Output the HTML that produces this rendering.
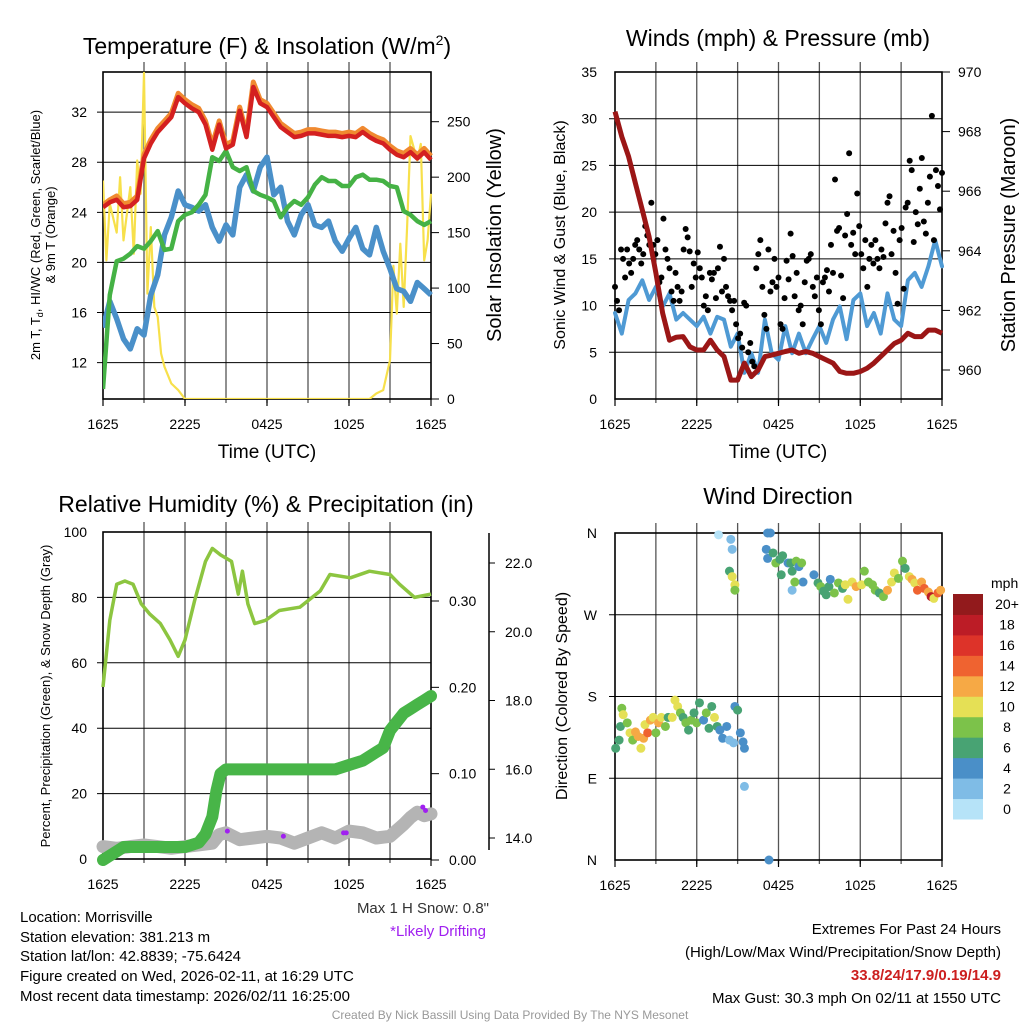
<!DOCTYPE html>
<html><head><meta charset="utf-8">
<style>
html,body{margin:0;padding:0;background:#fff;}
svg{display:block;font-family:"Liberation Sans",sans-serif;}
</style></head>
<body>
<svg id="fig" width="1024" height="1024" viewBox="0 0 1024 1024" xmlns="http://www.w3.org/2000/svg">
<rect width="1024" height="1024" fill="#fff"/>
<g id="p1"></g>
<g id="p2"></g>
<g id="p3"></g>
<g id="p4"></g>

<text x="267" y="54" font-size="23" text-anchor="middle">Temperature (F) &amp; Insolation (W/m<tspan font-size="14" dy="-9">2</tspan><tspan dy="9">)</tspan></text>
<text x="778" y="46" font-size="23" text-anchor="middle">Winds (mph) &amp; Pressure (mb)</text>
<text x="266" y="512" font-size="23" text-anchor="middle">Relative Humidity (%) &amp; Precipitation (in)</text>
<text x="778" y="504" font-size="23" text-anchor="middle">Wind Direction</text>

<text x="267" y="458" font-size="19" text-anchor="middle">Time (UTC)</text>
<text x="778" y="458" font-size="19" text-anchor="middle">Time (UTC)</text>

<g transform="translate(40,235) rotate(-90)">
<text x="0" y="0" font-size="13" text-anchor="middle">2m T, T<tspan font-size="9" dy="3">d</tspan><tspan dy="-3">, HI/WC (Red, Green, Scarlet/Blue)</tspan></text>
<text x="0" y="15" font-size="13" text-anchor="middle">&amp; 9m T (Orange)</text>
</g>
<text transform="translate(501,235) rotate(-90)" font-size="20" text-anchor="middle">Solar Insolation (Yellow)</text>
<text transform="translate(565,235) rotate(-90)" font-size="16" text-anchor="middle">Sonic Wind &amp; Gust (Blue, Black)</text>
<text transform="translate(1015,235) rotate(-90)" font-size="20" text-anchor="middle">Station Pressure (Maroon)</text>
<text transform="translate(50,696) rotate(-90)" font-size="13" text-anchor="middle">Percent, Precipitation (Green), &amp; Snow Depth (Gray)</text>
<text transform="translate(567,696) rotate(-90)" font-size="16" text-anchor="middle">Direction (Colored By Speed)</text>

<text x="489" y="913" font-size="15" fill="#333" text-anchor="end">Max 1 H Snow: 0.8"</text>
<text x="486" y="936" font-size="15" fill="#a020f0" text-anchor="end">*Likely Drifting</text>

<g font-size="15">
<text x="20" y="922">Location: Morrisville</text>
<text x="20" y="942">Station elevation: 381.213 m</text>
<text x="20" y="961">Station lat/lon: 42.8839; -75.6424</text>
<text x="20" y="981">Figure created on Wed, 2026-02-11, at 16:29 UTC</text>
<text x="20" y="1001">Most recent data timestamp: 2026/02/11 16:25:00</text>
</g>
<g font-size="15" text-anchor="end">
<text x="1001" y="934">Extremes For Past 24 Hours</text>
<text x="1001" y="957">(High/Low/Max Wind/Precipitation/Snow Depth)</text>
<text x="1001" y="980" fill="#cc1f1f" font-weight="bold">33.8/24/17.9/0.19/14.9</text>
<text x="1001" y="1003">Max Gust: 30.3 mph On 02/11 at 1550 UTC</text>
</g>
<text x="510" y="1019" font-size="12" fill="#999" text-anchor="middle">Created By Nick Bassill Using Data Provided By The NYS Mesonet</text>
</svg>
<script>
// ---------- data ----------
const xTickLabels = ["1625","2225","0425","1025","1625"];
const tempTimes = [0,0.5,1,1.5,2,2.5,3,3.5,4,4.5,5,5.5,6,6.5,7,7.5,8,8.5,9,9.5,10,10.5,11,11.5,12,12.5,13,13.5,14,14.5,15,15.5,16,16.5,17,17.5,18,18.5,19,19.5,20,20.5,21,21.5,22,22.5,23,23.5,24];
const tempRed = [24.4,24.8,25.0,24.4,24.5,25.0,28.3,29.5,30.4,31.0,31.6,33.2,32.7,32.3,32.0,31.0,29.0,31.0,29.1,29.4,32.1,30.0,34.0,32.7,32.4,31.6,30.8,30.4,30.0,30.1,30.3,30.3,30.2,30.1,30.1,30.0,30.1,30.0,30.4,30.0,29.7,29.5,29.0,28.6,28.4,28.8,28.3,28.8,28.2];
const temp9m = [24.6,25.0,25.3,24.7,24.8,25.3,28.6,29.8,30.7,31.3,31.9,33.5,33.0,32.6,32.3,31.3,29.4,31.3,29.4,29.7,32.4,30.3,34.4,33.0,32.7,31.9,31.1,30.7,30.3,30.4,30.6,30.6,30.5,30.4,30.4,30.3,30.4,30.3,30.7,30.3,30.0,29.8,29.3,28.9,28.7,29.1,28.6,29.1,28.5];
const dewGreen = [9.9,17.4,20.1,20.3,20.7,21.3,21.1,21.7,22.5,21.0,21.1,23.3,23.8,24.0,24.6,25.4,28.4,28.1,28.9,27.6,27.3,27.6,25.7,25.4,25.2,24.9,23.6,24.4,24.9,24.6,25.2,26.2,26.8,26.5,26.5,26.1,26.1,26.8,27.0,26.6,26.6,26.5,26.1,26.0,24.1,23.8,23.3,23.0,23.3];
const windChillBlue = [14.8,16.9,15.5,13.9,13.1,14.7,14.2,17.4,19.0,22.2,23.6,25.7,24.6,24.4,24.1,24.6,22.8,21.7,23.0,22.2,26.0,27.0,25.7,27.6,28.4,25.4,26.0,23.3,22.2,23.8,24.6,23.0,22.8,23.3,21.7,20.9,21.9,22.8,21.1,20.6,22.8,20.9,19.5,17.9,17.7,16.9,18.4,17.9,17.4];
const solarTimes = [0,0.25,0.5,1,1.25,1.5,2,2.25,2.5,2.75,3,3.25,3.5,3.75,4,4.25,4.5,5,5.5,6,8,12,16,19.5,20,20.5,21,21.25,21.5,21.75,22,22.25,22.5,23,23.25,23.5,23.75,24];
const solarVals = [197,125,176,150,200,143,191,131,215,185,294,95,155,83,74,41,29,14,8,0,0,0,0,0,5,8,35,120,77,140,83,155,237,215,230,125,143,185];
const tempLeftTicks = [12,16,20,24,28,32];
const solarTicks = [0,50,100,150,200,250];

const windTimes = tempTimes;
const windSpeed = [9.2,7.0,10.6,11.3,12.7,10.6,12.0,9.9,11.3,8.5,9.2,8.5,7.8,8.8,7.0,8.8,8.5,5.6,7.0,2.8,4.9,2.8,8.5,4.9,4.2,7.8,4.9,7.0,4.9,6.4,7.8,6.0,8.5,9.9,6.4,10.6,11.3,7.8,9.2,7.0,11.3,8.5,7.8,12.7,13.5,12.0,14.2,17.0,14.2];
const gustVals = [12,10.5,9.5,16,15,13,16,14.5,13.5,15,16.5,17,16,14.5,15.5,18.5,17.5,16.5,21,16.5,15.5,17,12.5,13,19.3,16,15,14,11.5,10.5,13.5,12,10.5,11.5,16,18.2,17.3,15.8,12,14.5,13,15.7,14,13,10,11,9.5,13.5,12.8,13.5,10.8,14,16.3,11.5,15,12,11,10.5,9.5,10.5,8,6.5,7,5.5,10.3,10,5,6,4,3.5,14,15.5,17,12,9,7.5,16,11.5,12.5,15,12,13,8,7.5,10.8,14.8,12.8,17.7,15.3,11,13.5,9.5,10,8,12.5,14.8,15,15.5,12,11,13,9.5,8,12.5,13,13.8,11.5,16.5,13.5,23.5,18,18.3,13.2,10.8,17.5,19.8,26.3,16.5,17.8,15.5,22,18.5,15.5,14,17,12,15,16.5,14.5,17,15,14,16,15.2,18.8,21,21.7,15.5,18,13.5,10.2,17,18.3,11.8,20.5,21,25.5,24.5,16.8,20,18.7,22.5,25.8,19,17.7,21,23.8,30.3,17,24.5,22.8,20.3,24.2];
const pressureVals = [968.67,967.83,967.16,966.27,965.37,964.47,963.25,961.9,961.0,961.1,961.12,960.78,960.67,960.67,961.0,960.67,960.45,959.66,959.66,960.23,959.78,960.0,960.45,960.5,960.56,960.62,960.67,960.56,960.62,960.56,960.45,960.34,960.23,959.95,959.89,959.89,959.95,960.06,960.23,960.45,960.67,960.89,961.0,961.23,961.12,961.12,961.34,961.34,961.23];
const windTicks = [0,5,10,15,20,25,30,35];
const pressureTicks = [960,962,964,966,968,970];

const rhTimes = [0,0.5,1,1.6,2.2,2.8,3.4,4.2,4.9,5.5,6,6.7,7.5,8,8.6,9.4,9.9,10.2,10.6,11.1,11.9,12.9,14.4,15.9,16.6,18.1,19.5,21,21.7,22.8,24];
const rhVals = [52.6,73,84,85,84,78,75,72,67,62,67,79,91,95,93,91,81,88,78,72,73,76,77,82,87,86,88,87,84,80,81];
const precipTimes = [0,0.5,1,1.5,3,5,6,7,7.5,8,8.3,8.6,9,12,15,17,18,19,20,20.5,21,21.5,22,22.5,23,23.5,24];
const precipVals = [0,0.005,0.01,0.015,0.015,0.015,0.015,0.02,0.03,0.05,0.08,0.1,0.105,0.105,0.105,0.105,0.11,0.115,0.125,0.13,0.15,0.16,0.17,0.175,0.18,0.185,0.19];
const snowTimes = [0,1,2,3,4,5,6,7,8,8.5,9,10,11,12,13,14,15,16,17,18,19,20,21,22,22.5,23,23.5,24];
const snowVals = [13.75,13.7,13.75,13.8,13.75,13.7,13.75,13.8,13.85,14.1,14.15,13.95,14.0,14.05,14.0,13.85,14.0,14.15,14.0,14.2,14.15,14.0,14.05,14.4,14.6,14.75,14.65,14.7];
const driftTimes = [2.2,2.4,9.1,13.2,17.6,17.8,23.4,23.6];
const driftVals = [13.8,13.8,14.2,14.05,14.15,14.15,14.9,14.8];
const rhTicks = [0,20,40,60,80,100];
const precipTicks = ["0.00","0.10","0.20","0.30"];
const snowTicks = ["14.0","16.0","18.0","20.0","22.0"];

const dirTimes = [0.05,0.3,0.4,0.5,0.6,0.9,1.1,1.3,1.5,1.7,1.9,2.1,2.2,2.4,2.6,2.8,3.0,3.2,3.4,3.7,3.9,4.2,4.4,4.6,4.8,5.0,5.2,5.4,5.6,5.8,6.0,6.2,6.5,6.7,6.9,7.1,7.3,7.5,7.7,7.9,8.2,8.4,8.8,9.0,9.2,9.4,9.5,9.5,8.7,7.6,8.5,8.6,8.4,8.6,8.8,8.8,11.2,11.4,11.1,11.2,11.6,11.8,12.1,12.3,12.2,12.7,12.9,13.0,13.3,13.5,13.7,13.0,13.8,13.2,14.6,14.9,15.1,15.3,15.5,15.7,15.8,16.1,16.4,16.7,16.9,17.1,17.4,17.7,18.1,18.3,18.6,18.9,19.1,19.4,19.7,20.0,20.3,20.5,20.8,21.1,21.3,21.6,21.8,22.0,22.2,22.5,22.7,23.0,23.2,23.4,23.7,23.9,11.3];
const dirVals = [123,132,147,167,160,151,140,132,141,136,123,134,149,140,154,157,140,151,157,147,157,157,176,169,162,157,151,143,154,162,151,173,154,162,145,169,157,147,143,134,147,132,169,165,140,130,123,81,129,358,353,342,318,312,303,297,360,360,342,332,338,327,331,335,314,327,327,318,329,323,327,297,306,306,314,305,301,296,292,301,309,294,305,299,303,287,306,301,303,318,306,303,297,294,290,297,306,316,310,329,321,312,309,305,297,306,299,295,290,288,294,297,0];
const dirSpeeds = [6,6,6,8,10,8,10,8,12,12,10,12,10,14,12,10,8,12,10,8,6,10,10,10,8,6,8,6,8,6,8,6,4,8,6,6,10,6,4,4,4,2,4,6,4,4,4,2,2,0,2,2,6,10,10,8,4,4,4,4,6,8,6,6,6,4,6,6,8,4,8,2,4,8,4,6,8,6,6,6,4,8,8,6,10,10,10,12,10,8,8,8,8,6,8,12,10,10,8,8,6,10,12,10,14,12,14,12,18,10,14,12,4];
const dirTickLabels = ["N","E","S","W","N"];
const speedBinLabels = ["0","2","4","6","8","10","12","14","16","18","20+"];
const speedColors = ["#b6e3f8","#7fbce6","#4a8fc8","#48a373","#7cc24a","#e5e055","#f6a945","#ef6330","#dd3329","#bc1c26","#921a1c"];

// ---------- helpers ----------
const NS = "http://www.w3.org/2000/svg";
function mk(parent, tag, attrs){
  const e = document.createElementNS(NS, tag);
  for (const k in attrs) e.setAttribute(k, attrs[k]);
  parent.appendChild(e);
  return e;
}
function linear(d0,d1,r0,r1){ return v => r0 + (v-d0)*(r1-r0)/(d1-d0); }
function pathFrom(xsArr, ysArr, xf, yf){
  let d = "";
  for (let i=0;i<xsArr.length;i++) d += (i? "L":"M") + xf(xsArr[i]).toFixed(1) + " " + yf(ysArr[i]).toFixed(1);
  return d;
}
function frame(g, L, T, R, B, hGridVals, yf){
  const xf = linear(0,24,L,R);
  for (let h=3; h<24; h+=3){
    const gl = mk(g,"line",{x1:xf(h),x2:xf(h),y1:T-10,y2:B+4,stroke:"#555","stroke-width":1.3});
    
    
  }
  hGridVals.forEach(v=>{
    const gl = mk(g,"line",{x1:L-6,x2:R,y1:yf(v),y2:yf(v),stroke:"#000","stroke-width":1});
    
    
  });
  const fr = mk(g,"rect",{x:L,y:T,width:R-L,height:B-T,fill:"none",stroke:"#000","stroke-width":1.6});
  
  
  xTickLabels.forEach((lab,i)=>{
    const x = xf(i*6);
    mk(g,"line",{x1:x,x2:x,y1:B,y2:B+7,stroke:"#000","stroke-width":1.2});
    const t = mk(g,"text",{x:x,y:B+30,"font-size":14,"text-anchor":"middle"});
    t.textContent = lab;
    
    
  });
  return xf;
}
function leftLabels(g, vals, yf, x){
  vals.forEach(v=>{
    const t = mk(g,"text",{x:x,y:yf(+v)+5,"font-size":14,"text-anchor":"end"});
    t.textContent = v;
    
    
  });
}

// ---------- Panel 1 ----------
(function(){
  const g = document.getElementById("p1");
  const L=103,T=72,R=431,B=399;
  const yT = linear(9.1,35.2,B,T);
  const yS = linear(0,250,B,121.7);
  const xf = frame(g,L,T,R,B,tempLeftTicks,yT);
  leftLabels(g,tempLeftTicks,yT,87);
  solarTicks.forEach(v=>{
    mk(g,"line",{x1:R,x2:R+8,y1:yS(v),y2:yS(v),stroke:"#000"});
    const t = mk(g,"text",{x:447,y:yS(v)+5,"font-size":14});
    t.textContent = v;
    
    
  });
  const clip = mk(g,"clipPath",{id:"c1"}); mk(clip,"rect",{x:L,y:T-3,width:R-L+3,height:B-T+3});
  const s = mk(g,"g",{"clip-path":"url(#c1)"});
  let p;
  p = mk(s,"path",{d:pathFrom(solarTimes,solarVals,xf,yS),fill:"none",stroke:"#f7e04b","stroke-width":2.2,"stroke-linejoin":"round"});
   
  p = mk(s,"path",{d:pathFrom(tempTimes,windChillBlue,xf,yT),fill:"none",stroke:"#4a90c9","stroke-width":5.5,"stroke-linejoin":"round"});
   
  p = mk(s,"path",{d:pathFrom(tempTimes,dewGreen,xf,yT),fill:"none",stroke:"#45b245","stroke-width":4.5,"stroke-linejoin":"round"});
   
  p = mk(s,"path",{d:pathFrom(tempTimes,temp9m,xf,yT),fill:"none",stroke:"#f08a30","stroke-width":5,"stroke-linejoin":"round"});
   
  p = mk(s,"path",{d:pathFrom(tempTimes,tempRed,xf,yT),fill:"none",stroke:"#d42020","stroke-width":4.5,"stroke-linejoin":"round"});
   
})();

// ---------- Panel 2 ----------
(function(){
  const g = document.getElementById("p2");
  const L=615,T=72,R=942,B=399;
  const yW = linear(0,35,B,T);
  const yP = linear(960,970,370,72);
  const xf = frame(g,L,T,R,B,[5,10,15,20,25,30],yW);
  leftLabels(g,windTicks,yW,597);
  pressureTicks.forEach(v=>{
    mk(g,"line",{x1:R,x2:R+8,y1:yP(v),y2:yP(v),stroke:"#000"});
    const t = mk(g,"text",{x:958,y:yP(v)+5,"font-size":14});
    t.textContent = v;
    
    
  });
  let p = mk(g,"path",{d:pathFrom(windTimes,windSpeed,xf,yW),fill:"none",stroke:"#4f9ad4","stroke-width":4,"stroke-linejoin":"round","stroke-linecap":"round"});
   
  gustVals.forEach((v,i)=>{
    const c = mk(g,"circle",{cx:xf(24*i/(gustVals.length-1)),cy:yW(v),r:3,fill:"#000"});
    
    
  });
  p = mk(g,"path",{d:pathFrom(windTimes,pressureVals,xf,yP),fill:"none",stroke:"#9b1616","stroke-width":5,"stroke-linejoin":"round"});
   
})();

// ---------- Panel 3 ----------
(function(){
  const g = document.getElementById("p3");
  const L=103,T=532,R=431,B=859;
  const yR = linear(0,100,B,T);
  const yPr = linear(0,0.3,860,601);
  const ySn = linear(14,22,838,563);
  const xf = frame(g,L,T,R,B,[20,40,60,80],yR);
  leftLabels(g,rhTicks,yR,87);
  precipTicks.forEach(v=>{
    mk(g,"line",{x1:R,x2:R+8,y1:yPr(+v),y2:yPr(+v),stroke:"#000"});
    const t = mk(g,"text",{x:449,y:yPr(+v)+5,"font-size":14});
    t.textContent = v;
    
    
  });
  const ax = mk(g,"line",{x1:489,x2:489,y1:533,y2:850,stroke:"#000","stroke-width":1.5});
   
  snowTicks.forEach(v=>{
    mk(g,"line",{x1:489,x2:495,y1:ySn(+v),y2:ySn(+v),stroke:"#000"});
    const t = mk(g,"text",{x:505,y:ySn(+v)+5,"font-size":14});
    t.textContent = v;
    
    
  });
  let p = mk(g,"path",{d:pathFrom(snowTimes,snowVals,xf,ySn),fill:"none",stroke:"#b4b4b4","stroke-width":13,"stroke-linejoin":"round","stroke-linecap":"round"});
   
  driftTimes.forEach((t,i)=>{
    const c = mk(g,"circle",{cx:xf(t),cy:ySn(driftVals[i]),r:2.5,fill:"#a020f0"});
    
    
  });
  p = mk(g,"path",{d:pathFrom(precipTimes,precipVals,xf,yPr),fill:"none",stroke:"#48b548","stroke-width":12,"stroke-linejoin":"round","stroke-linecap":"round"});
   
  p = mk(g,"path",{d:pathFrom(rhTimes,rhVals,xf,yR),fill:"none",stroke:"#8cc540","stroke-width":3.5,"stroke-linejoin":"round"});
   
})();

// ---------- Panel 4 ----------
(function(){
  const g = document.getElementById("p4");
  const L=615,T=533,R=942,B=860;
  const yD = linear(0,360,B,T);
  const xf = frame(g,L,T,R,B,[90,180,270],yD);
  dirTickLabels.forEach((lab,i)=>{
    const t = mk(g,"text",{x:597,y:yD(i*90)+5,"font-size":14,"text-anchor":"end"});
    t.textContent = lab;
    
    
  });
  dirTimes.forEach((t,i)=>{
    const bin = Math.max(0,Math.min(10,Math.floor(dirSpeeds[i]/2)));
    const c = mk(g,"circle",{cx:xf(t),cy:yD(dirVals[i]),r:4.5,fill:speedColors[bin]});
    
    
  });
  const cb = mk(g,"g",{});
  
  
  const top=594, h=(819-594)/11;
  const mph = mk(cb,"text",{x:991,y:588,"font-size":14}); mph.textContent="mph";
   
  speedBinLabels.forEach((lab,i)=>{
    const k = 10-i;
    const y = top + k*h;
    const r = mk(cb,"rect",{x:953,y:y,width:30,height:h+0.5,fill:speedColors[i]});
     
    const t = mk(cb,"text",{x:1007,y:y+h/2+5,"font-size":14,"text-anchor":"middle"});
    t.textContent = lab;
     
  });
})();
</script>
</body></html>
